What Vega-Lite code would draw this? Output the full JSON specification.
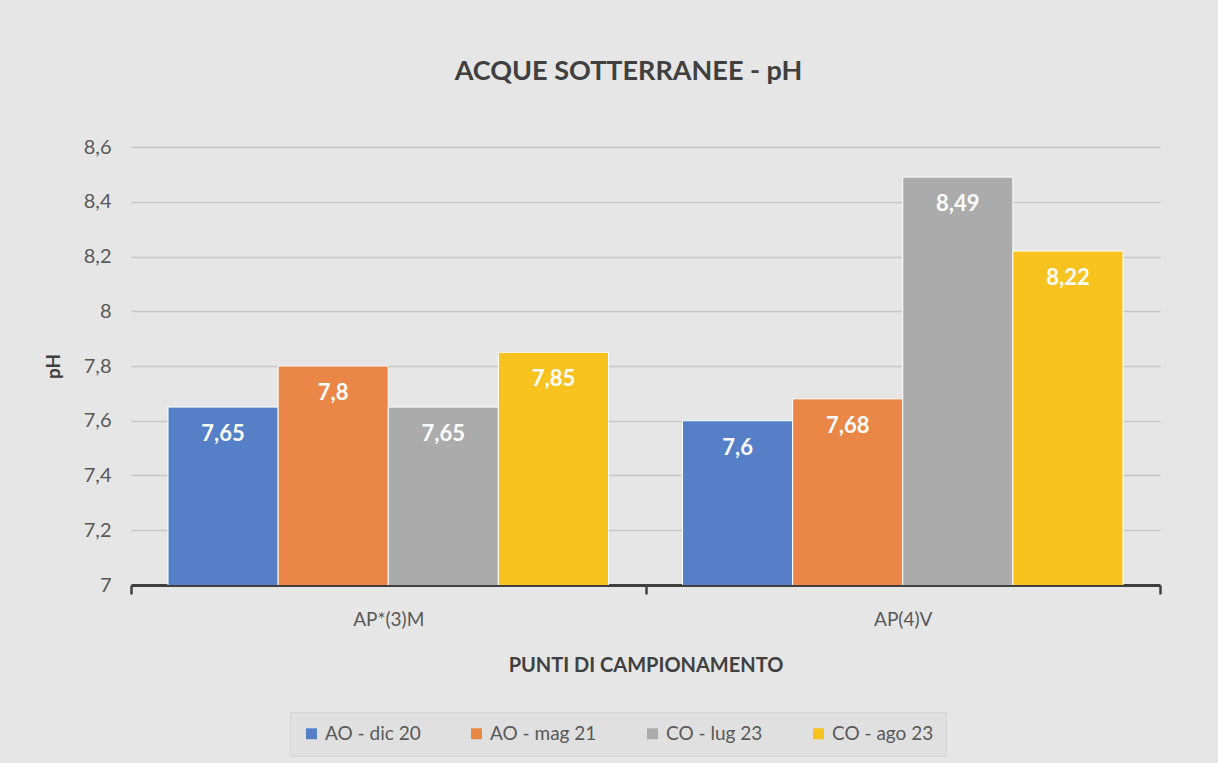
{
  "$schema": "https://vega.github.io/schema/vega-lite/v6.json",
  "width": 1029,
  "height": 438,
  "autosize": {"type": "none"},
  "padding": {"left": 131, "top": 147, "right": 58, "bottom": 178},
  "background": "#e6e6e6",
  "title": {
    "text": "ACQUE SOTTERRANEE - pH",
    "fontSize": 27,
    "fontWeight": "bold",
    "color": "#404040",
    "font": "Lato",
    "anchor": "middle",
    "dx": -17,
    "offset": 51
  },
  "config": {
    "locale": {"number": {"decimal": ",", "thousands": ".", "grouping": [3], "currency": ["€", ""]}},
    "font": "Lato",
    "view": {"stroke": null}
  },
  "data": {
    "values": [
      {"punto": "AP*(3)M", "serie": "AO - dic 20", "ph": 7.65},
      {"punto": "AP*(3)M", "serie": "AO - mag 21", "ph": 7.8},
      {"punto": "AP*(3)M", "serie": "CO - lug 23", "ph": 7.65},
      {"punto": "AP*(3)M", "serie": "CO - ago 23", "ph": 7.85},
      {"punto": "AP(4)V", "serie": "AO - dic 20", "ph": 7.6},
      {"punto": "AP(4)V", "serie": "AO - mag 21", "ph": 7.68},
      {"punto": "AP(4)V", "serie": "CO - lug 23", "ph": 8.49},
      {"punto": "AP(4)V", "serie": "CO - ago 23", "ph": 8.22}
    ]
  },
  "encoding": {
    "x": {
      "field": "punto",
      "type": "nominal",
      "sort": ["AP*(3)M", "AP(4)V"],
      "scale": {"paddingInner": 0, "paddingOuter": 0},
      "axis": {
        "title": "PUNTI DI CAMPIONAMENTO",
        "titleFontSize": 20,
        "titleFontWeight": "bold",
        "titleColor": "#404040",
        "titlePadding": 26,
        "labelAngle": 0,
        "labelFontSize": 19,
        "labelColor": "#595959",
        "labelPadding": 16,
        "domainColor": "#404040",
        "domainWidth": 3,
        "tickBand": "extent",
        "tickColor": "#404040",
        "tickWidth": 2.5,
        "tickSize": 9,
        "grid": false
      }
    },
    "xOffset": {
      "field": "serie",
      "type": "nominal",
      "sort": ["AO - dic 20", "AO - mag 21", "CO - lug 23", "CO - ago 23"],
      "scale": {"paddingInner": 0, "paddingOuter": 0.336}
    },
    "y": {
      "field": "ph",
      "type": "quantitative",
      "scale": {"domain": [7, 8.6], "nice": false, "zero": false},
      "axis": {
        "title": "pH",
        "titleFontSize": 19,
        "titleFontWeight": "bold",
        "titleColor": "#404040",
        "titlePadding": 20,
        "values": [7, 7.2, 7.4, 7.6, 7.8, 8, 8.2, 8.4, 8.6],
        "format": "~g",
        "labelFontSize": 20,
        "labelColor": "#595959",
        "labelPadding": 20,
        "ticks": false,
        "domain": false,
        "gridColor": "#c8c8c8",
        "gridWidth": 1.5
      }
    }
  },
  "layer": [
    {
      "mark": {"type": "bar", "stroke": "#ffffff", "strokeWidth": 1, "clip": true},
      "encoding": {
        "color": {
          "field": "serie",
          "type": "nominal",
          "scale": {
            "domain": ["AO - dic 20", "AO - mag 21", "CO - lug 23", "CO - ago 23"],
            "range": ["#5580C8", "#EA8747", "#ABABAB", "#F9C31F"]
          },
          "legend": {
            "title": null,
            "orient": "none",
            "legendX": 159,
            "legendY": 565,
            "direction": "horizontal",
            "symbolType": "square",
            "symbolSize": 120,
            "symbolStrokeWidth": 0,
            "labelFontSize": 19,
            "labelColor": "#595959",
            "columnPadding": 46,
            "padding": 12,
            "fillColor": "#e0e0e0",
            "strokeColor": "#d4d4d4"
          }
        }
      }
    },
    {
      "mark": {"type": "text", "baseline": "middle", "dy": 27, "fontSize": 22, "fontWeight": "bold", "color": "#ffffff"},
      "encoding": {
        "text": {"field": "ph", "type": "quantitative", "format": "~g"}
      }
    }
  ]
}
